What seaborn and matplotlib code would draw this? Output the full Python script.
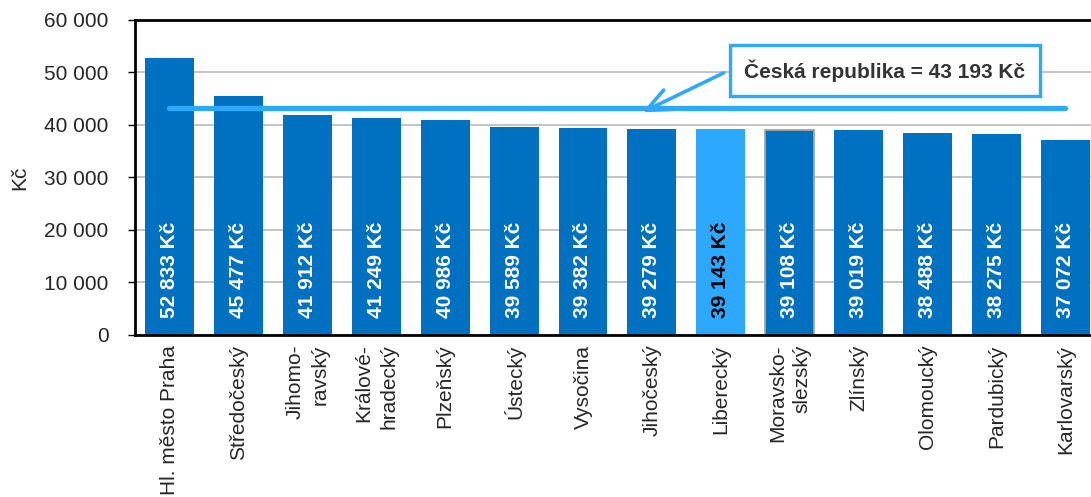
import matplotlib
matplotlib.use("Agg")
import matplotlib.pyplot as plt
import matplotlib.ticker as mticker
import seaborn as sns
import pandas as pd

# data
regions = ["Hl. město Praha", "Středočeský", "Jihomo-\nravský", "Králové-\nhradecký",
           "Plzeňský", "Ústecký", "Vysočina", "Jihočeský", "Liberecký",
           "Moravsko-\nslezský", "Zlínský", "Olomoucký", "Pardubický", "Karlovarský"]
wages = [52833, 45477, 41912, 41249, 40986, 39589, 39382, 39279, 39143,
         39108, 39019, 38488, 38275, 37072]
cr_avg = 43193
highlight = "Liberecký"
outlined = "Moravsko-\nslezský"

dark_blue = "#0070C0"
light_blue = "#2CA9FF"

sns.set_theme(style="white")
plt.rcParams["font.family"] = ["Liberation Sans", "DejaVu Sans"]

df = pd.DataFrame({"kraj": regions, "mzda": wages})
colors = [light_blue if r == highlight else dark_blue for r in regions]

fig = plt.figure(figsize=(10.91, 4.97), dpi=100)
ax = fig.add_axes([0.1237, 0.326, 0.8845, 0.634])

sns.barplot(data=df, x="kraj", y="mzda", hue="kraj", palette=colors,
            legend=False, width=0.71, saturation=1, ax=ax, zorder=2)

for patch, r in zip(ax.patches, regions):
    patch.set_linewidth(0)
    if r == outlined:
        patch.set_edgecolor("#A6A6A6")
        patch.set_linewidth(1.3)

# value labels inside the bars
for i, (r, v) in enumerate(zip(regions, wages)):
    txt = f"{v:,}".replace(",", " ") + " Kč"
    ax.text(i, 3200, txt, rotation=90, ha="center", va="bottom",
            fontsize=15, fontweight="bold",
            color="black" if r == highlight else "white", zorder=4)

# Czech average line
ax.plot([0, len(regions) - 1], [cr_avg, cr_avg], color=light_blue, lw=3.8,
        solid_capstyle="round", zorder=5)

ax.annotate("", xy=(6.86, 42400), xytext=(8.04, 49900),
            arrowprops=dict(arrowstyle="->,head_length=0.8,head_width=0.35",
                            mutation_scale=22, color=light_blue, lw=2.6,
                            shrinkA=0, shrinkB=0), zorder=6)
ax.text(10.38, 50350, f"Česká republika = {cr_avg:,} Kč".replace(",", " "),
        ha="center", va="center", fontsize=15, fontweight="bold", color="#333333",
        bbox=dict(boxstyle="square,pad=0.68", fc="white", ec=light_blue, lw=2.4),
        zorder=7)

ax.set_ylim(0, 60000)
ax.set_xlim(-0.5, len(regions) - 0.5)
ax.yaxis.set_major_locator(mticker.MultipleLocator(10000))
ax.yaxis.set_major_formatter(mticker.FuncFormatter(lambda v, p: f"{int(v):,}".replace(",", " ")))
ax.grid(axis="y", color="#BFBFBF", lw=1.3, zorder=0)
ax.set_axisbelow(True)

ax.set_xlabel("")
ax.set_ylabel("Kč", fontsize=15, labelpad=11)
ax.set_xticks(range(len(regions)))
ax.set_xticklabels(regions, rotation=90, ha="center", va="top", ma="right",
                   fontsize=15, linespacing=1.4)
ax.set_xticks([k - 0.5 for k in range(len(regions) + 1)], minor=True)
ax.tick_params(axis="x", which="major", length=0, pad=7)
ax.tick_params(axis="x", which="minor", direction="inout", length=10, width=1, color="black")
ax.tick_params(axis="y", which="major", direction="out", length=5, width=1, color="black",
               labelsize=15, pad=14, left=True)

for side in ["left", "top", "bottom"]:
    ax.spines[side].set_color("black")
    ax.spines[side].set_linewidth(2)
ax.spines["right"].set_visible(False)

fig.savefig("out.png", dpi=100)
